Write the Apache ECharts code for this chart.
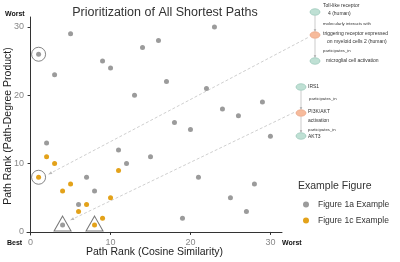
<!DOCTYPE html>
<html><head><meta charset="utf-8">
<script src="https://cdn.jsdelivr.net/npm/echarts@6/dist/echarts.min.js"></script>
<style>html,body{margin:0;padding:0;background:#fff}#c{width:400px;height:262px}</style>
</head><body><div id="c"></div>
<script>
// ---- data ----
const fig1aX = [1,2,3,4,5,6,7,8,9,10,11,12,13,14,15,16,17,18,19,20,21,22,23,24,25,26,27,28,29,30];
const fig1aY = [26,13,23,1,29,4,8,6,25,24,12,10,20,27,11,28,22,16,2,15,8,21,30,18,5,17,3,7,19,14];
const fig1cX = [1,2,3,4,5,6,7,8,9,10,11];
const fig1cY = [8,11,10,6,7,3,4,1,2,5,9];
const circledX = [1,1];
const circledY = [26,8];
const triangleX = [4,8];
const triangleY = [1,1];
const tickValues = [0,10,20,30];
const seriesNames = ['Figure 1a Example','Figure 1c Example'];

const zip = (xs, ys) => xs.map((x,i)=>[x, ys[i]]);
const FONT = 'Liberation Sans, Arial, sans-serif';
const GRAY = '#9b9b9b', ORANGE = '#E3A21A';

const chart = echarts.init(document.getElementById('c'), null, {renderer:'canvas'});
const axisCommon = {
  type:'value', min:-0.45, max:31.45,
  splitLine:{show:false},
  axisLine:{show:true, lineStyle:{color:'#333', width:1}},
  axisTick:{show:true, length:3, lineStyle:{color:'#333'}, customValues:tickValues},
  axisLabel:{customValues:tickValues, color:'#888', fontSize:9, fontFamily:FONT, margin:3},
  nameMoveOverlap:false,
  nameTextStyle:{color:'#222', fontSize:10.5, fontFamily:FONT}
};
chart.setOption({
  animation:false,
  title:[
    {text:'Prioritization of All Shortest Paths', left:160, top:1, textAlign:'center',
     textStyle:{fontSize:12.5, fontWeight:'normal', color:'#333', fontFamily:FONT}},
    {text:'Example Figure', left:293, top:176,
     textStyle:{fontSize:10.5, fontWeight:'normal', color:'#333', fontFamily:FONT}}
  ],
  grid:{left:27, right:118, top:17, bottom:27, containLabel:false, outerBoundsMode:'none'},
  xAxis:Object.assign({}, axisCommon, {name:'Path Rank (Cosine Similarity)', nameLocation:'middle', nameGap:12,
    nameTextStyle:{color:'#222', fontSize:10.5, fontFamily:FONT, verticalAlign:'top'}}),
  yAxis:Object.assign({}, axisCommon, {name:'Path Rank (Path-Degree Product)', nameLocation:'middle', nameGap:13,
    nameTextStyle:{color:'#222', fontSize:10.5, fontFamily:FONT}}),
  legend:{orient:'vertical', left:298, top:195, itemGap:7, itemWidth:6, itemHeight:6,
    data:[{name:seriesNames[0], icon:'circle'},{name:seriesNames[1], icon:'circle'}],
    textStyle:{fontSize:8.5, color:'#333', fontFamily:FONT, padding:[0,0,0,4]}},
  series:[
    {name:seriesNames[0], type:'scatter', symbolSize:5, data:zip(fig1aX, fig1aY), itemStyle:{color:GRAY, opacity:1}},
    {name:seriesNames[1], type:'scatter', symbolSize:5, data:zip(fig1cX, fig1cY), itemStyle:{color:ORANGE, opacity:1}},
    {name:'circled', type:'scatter', symbol:'circle', symbolSize:14, data:zip(circledX, circledY), silent:true,
     itemStyle:{color:'rgba(0,0,0,0)', borderColor:'#666', borderWidth:1}},
    {name:'tri', type:'scatter', symbol:'triangle', symbolSize:[17,15], symbolOffset:[0,-1.5], data:zip(triangleX, triangleY), silent:true,
     itemStyle:{color:'rgba(0,0,0,0)', borderColor:'#555', borderWidth:1}}
  ]
});

// ---- annotations (graphic) ----
const g = [];
function txt(x,y,s,opt){ g.push({type:'text', x:x, y:y, silent:true,
  style:Object.assign({text:s, fill:'#333', font:'5px '+FONT, textVerticalAlign:'middle'}, opt||{})}); }
function node(x,y,fill,stroke){ g.push({type:'ellipse', silent:true, shape:{cx:x, cy:y, rx:5, ry:3.3},
  style:{fill:fill, stroke:stroke, lineWidth:0.6}}); }
function vedge(x,y1,y2){ g.push({type:'line', silent:true, shape:{x1:x,y1:y1,x2:x,y2:y2}, style:{stroke:'#aaa', lineWidth:0.6}});
  g.push({type:'polygon', silent:true, shape:{points:[[x-1.3,y2-2.2],[x+1.3,y2-2.2],[x,y2]]}, style:{fill:'#aaa'}}); }
const TEAL='#bfe0d4', TEALB='#8cbfae', ORN='#f6bb9c', ORNB='#e59a78';
// graph 1
vedge(315,15.5,31.5); vedge(315,38.5,57.5);
node(315,12,TEAL,TEALB); node(315,35,ORN,ORNB); node(315,61,TEAL,TEALB);
txt(323,6,'Toll-like receptor'); txt(328,14,'4 (human)');
txt(323,23.5,'molecularly interacts with',{font:'4.3px '+FONT});
txt(323,34,'triggering receptor expressed'); txt(327,42,'on myeloid cells 2 (human)');
txt(323,51,'participates_in',{font:'4.3px '+FONT});
txt(326,61,'microglial cell activation');
// graph 2
vedge(301,90.5,109.5); vedge(301,116.5,132.5);
node(301,87,TEAL,TEALB); node(301,113,ORN,ORNB); node(301,136,TEAL,TEALB);
txt(308,87,'IRS1'); txt(309,99,'participates_in',{font:'4.3px '+FONT});
txt(308,112,'PI3K/AKT'); txt(308,121,'activation');
txt(308,130,'participates_in',{font:'4.3px '+FONT}); txt(308,136.5,'AKT3');
// Worst / Best labels
txt(5,14,'Worst',{font:'bold 7px '+FONT, fill:'#111'});
txt(7,243,'Best',{font:'bold 7px '+FONT, fill:'#111'});
txt(282,243,'Worst',{font:'bold 7px '+FONT, fill:'#111'});

// dashed connector lines from highlighted marks to pathway diagrams
function connector(dataPt, off, end){
  const p = chart.convertToPixel({gridIndex:0}, dataPt);
  const sx = p[0]+off[0], sy = p[1]+off[1];
  g.push({type:'line', silent:true, shape:{x1:sx,y1:sy,x2:end[0],y2:end[1]},
    style:{stroke:'#cfcfcf', lineWidth:1, lineDash:[3,2]}});
  const dx=end[0]-sx, dy=end[1]-sy, L=Math.hypot(dx,dy), ux=dx/L, uy=dy/L;
  g.push({type:'polygon', silent:true, shape:{points:[[sx,sy],[sx+ux*3.5-uy*1.6, sy+uy*3.5+ux*1.6],[sx+ux*3.5+uy*1.6, sy+uy*3.5-ux*1.6]]},
    style:{fill:'#bbb'}});
}
connector([circledX[1], circledY[1]], [10,-3], [309,37]);
connector([triangleX[0], triangleY[0]], [8,-5], [295,112]);
chart.setOption({graphic:g});
</script></body></html>
